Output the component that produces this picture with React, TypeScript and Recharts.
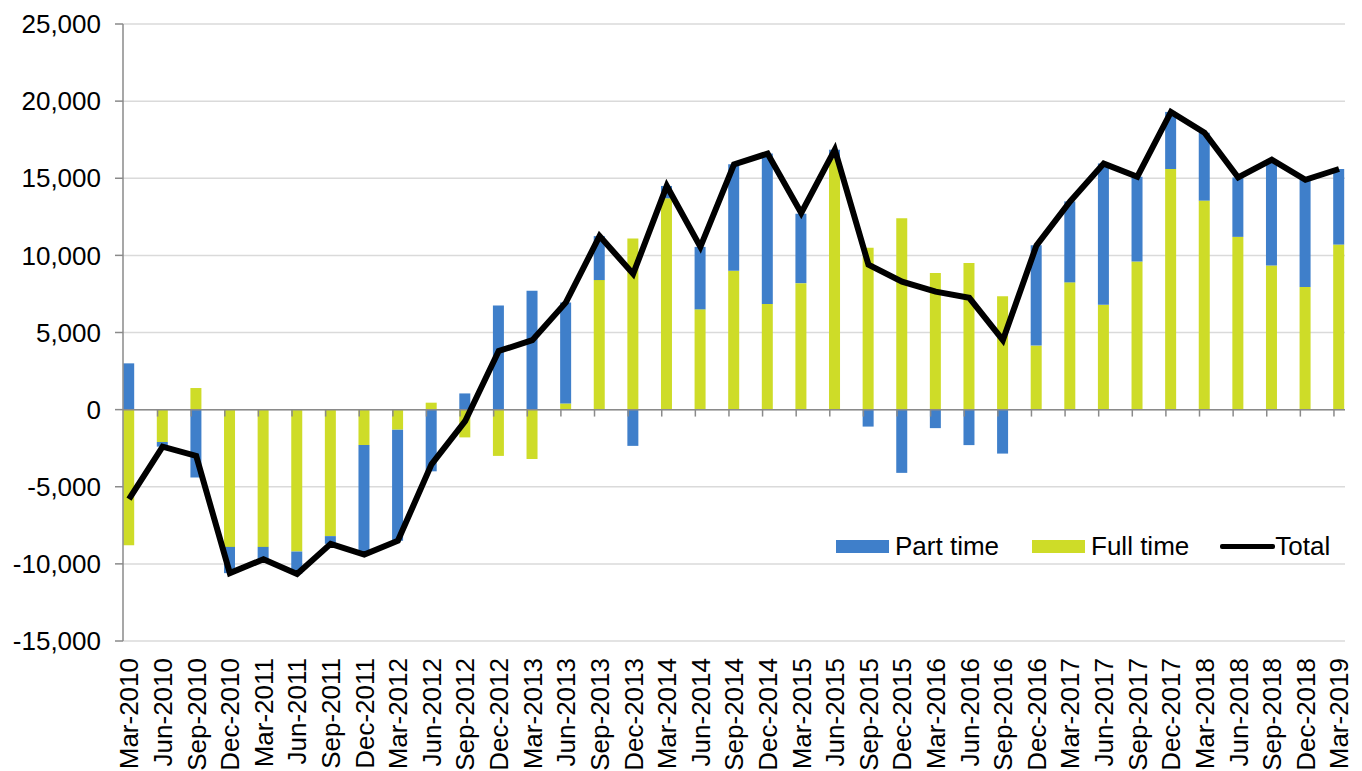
import React from 'react'
import { ComposedChart, Bar, Line, XAxis, YAxis, CartesianGrid, ReferenceLine } from 'recharts'

// quarters shown on the category axis
const categories = [
  'Mar-2010', 'Jun-2010', 'Sep-2010', 'Dec-2010',
  'Mar-2011', 'Jun-2011', 'Sep-2011', 'Dec-2011',
  'Mar-2012', 'Jun-2012', 'Sep-2012', 'Dec-2012',
  'Mar-2013', 'Jun-2013', 'Sep-2013', 'Dec-2013',
  'Mar-2014', 'Jun-2014', 'Sep-2014', 'Dec-2014',
  'Mar-2015', 'Jun-2015', 'Sep-2015', 'Dec-2015',
  'Mar-2016', 'Jun-2016', 'Sep-2016', 'Dec-2016',
  'Mar-2017', 'Jun-2017', 'Sep-2017', 'Dec-2017',
  'Mar-2018', 'Jun-2018', 'Sep-2018', 'Dec-2018',
  'Mar-2019',
]

const fullTime = [
  -8800, -2100, 1400, -8900, -8900, -9200, -8200, -2300, -1300, 450, -1800, -3000,
  -3200, 400, 8400, 11100, 13700, 6500, 9000, 6850, 8200, 16300, 10500, 12400,
  8850, 9500, 7350, 4150, 8250, 6800, 9600, 15600, 13550, 11200, 9350, 7950, 10700,
]

const partTime = [
  3000, -300, -4400, -1700, -800, -1450, -500, -7100, -7200, -4000, 1050, 6750,
  7700, 6550, 2850, -2350, 800, 4050, 6900, 9750, 4500, 550, -1100, -4100,
  -1200, -2300, -2850, 6500, 5250, 9150, 5500, 3700, 4400, 3850, 6850, 6950, 4900,
]

const total = [
  -5800, -2400, -3000, -10600, -9700, -10650, -8700, -9400, -8500, -3550, -750, 3800,
  4500, 6950, 11250, 8800, 14500, 10550, 15900, 16600, 12750, 16850, 9400, 8300,
  7650, 7250, 4500, 10650, 13500, 15950, 15100, 19300, 17950, 15050, 16200, 14900, 15600,
]

const yTicks = [-15000, -10000, -5000, 0, 5000, 10000, 15000, 20000, 25000]

const BLUE = '#3F7FCA'
const YELLOW = '#CEDC28'
const FONT = '"Liberation Sans", Arial, sans-serif'

const data = categories.map((name, i) => ({
  idx: i,
  name,
  part: partTime[i],
  full: fullTime[i],
  total: total[i],
}))

const idxTicks = categories.map((_, i) => i)

interface TickProps {
  x?: number;
  y?: number;
  payload?: { value: number };
}

const CategoryTick = ({ x, y, payload }: TickProps) => {
  if (x === undefined || y === undefined || !payload) return null
  return (
    <text
      x={x}
      y={y}
      transform={`rotate(-90, ${x}, ${y})`}
      textAnchor="end"
      dy="0.36em"
      fontSize={26}
      fontFamily={FONT}
      fill="#000"
    >
      {categories[payload.value]}
    </text>
  )
}

export default function App() {
  return (
    <div style={{ position: 'absolute', left: 0, top: 0, width: 1362, height: 771, background: '#fff', overflow: 'hidden' }}>
      <ComposedChart
        width={1362}
        height={771}
        data={data}
        stackOffset="sign"
        margin={{ top: 24, right: 17, left: 0, bottom: 0 }}
      >
        <CartesianGrid vertical={false} stroke="#DADADA" strokeWidth={1.5} />
        <XAxis
          type="number"
          dataKey="idx"
          domain={[0, categories.length - 1]}
          ticks={idxTicks}
          interval={0}
          padding={{ left: 6, right: 6 }}
          axisLine={false}
          tickLine={false}
          tickSize={0}
          tickMargin={17}
          height={130}
          tick={<CategoryTick />}
        />
        <YAxis
          domain={[-15000, 25000]}
          ticks={yTicks}
          interval={0}
          width={123}
          tickSize={8}
          tickMargin={14}
          axisLine={{ stroke: '#8A8A8A', strokeWidth: 1.5 }}
          tickLine={{ stroke: '#8A8A8A', strokeWidth: 1.5 }}
          tick={{ fontSize: 26, fontFamily: FONT, fill: '#000' }}
          tickFormatter={(v: number) => v.toLocaleString('en-US')}
        />
        <ReferenceLine y={0} stroke="#8A8A8A" strokeWidth={1.5} />
        {idxTicks.map((i) => (
          <ReferenceLine
            key={i}
            segment={[{ x: i - 0.15, y: 0 }, { x: i - 0.15, y: -450 }]}
            stroke="#8A8A8A"
            strokeWidth={1.5}
          />
        ))}
        <Bar dataKey="full" stackId="a" fill={YELLOW} barSize={11} isAnimationActive={false} />
        <Bar dataKey="part" stackId="a" fill={BLUE} barSize={11} isAnimationActive={false} />
        <Line
          type="linear"
          dataKey="total"
          stroke="#000"
          strokeWidth={6}
          dot={false}
          isAnimationActive={false}
        />
      </ComposedChart>
      <div
        style={{
          position: 'absolute',
          left: 836,
          top: 532,
          display: 'flex',
          alignItems: 'center',
          fontFamily: FONT,
          fontSize: 26,
          color: '#000',
          lineHeight: '28px',
        }}
      >
        <span style={{ width: 53, height: 13, background: BLUE, marginRight: 6 }} />
        <span style={{ marginRight: 33 }}>Part time</span>
        <span style={{ width: 53, height: 13, background: YELLOW, marginRight: 6 }} />
        <span style={{ marginRight: 31 }}>Full time</span>
        <span style={{ width: 55, height: 5, background: '#000', borderRadius: 2 }} />
        <span>Total</span>
      </div>
    </div>
  )
}
